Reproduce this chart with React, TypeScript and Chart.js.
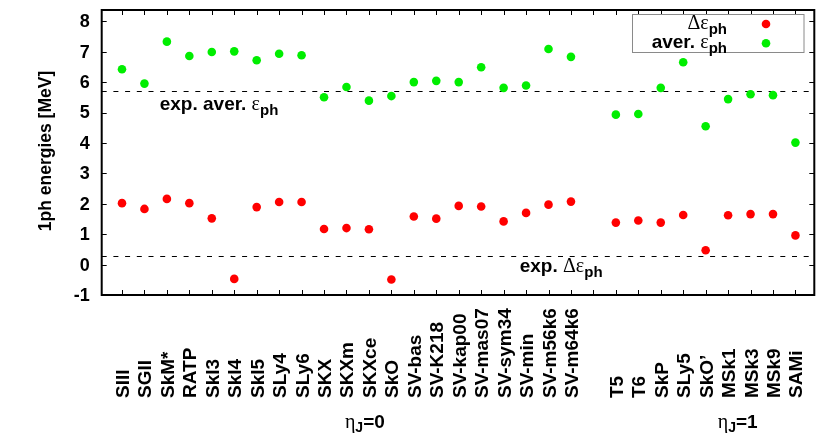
import { useEffect, useRef } from "react";
import { Chart, registerables } from "chart.js";

Chart.register(...registerables);

// ---- data ----
const models = [
  "SIII", "SGII", "SkM*", "RATP", "SkI3", "SkI4", "SkI5", "SLy4", "SLy6", "SKX",
  "SKXm", "SKXce", "SkO", "SV-bas", "SV-K218", "SV-kap00", "SV-mas07", "SV-sym34",
  "SV-min", "SV-m56k6", "SV-m64k6", "", "T5", "T6", "SkP", "SLy5", "SkO\u2019",
  "MSk1", "MSk3", "MSk9", "SAMi",
];
const deltaEph: (number | null)[] = [
  2.02, 1.83, 2.16, 2.02, 1.52, -0.47, 1.89, 2.06, 2.06, 1.17,
  1.20, 1.16, -0.49, 1.58, 1.51, 1.93, 1.91, 1.42,
  1.70, 1.97, 2.07, null, 1.38, 1.45, 1.38, 1.63, 0.47,
  1.62, 1.66, 1.66, 0.96,
];
const averEph: (number | null)[] = [
  6.42, 5.95, 7.33, 6.86, 6.99, 7.01, 6.72, 6.93, 6.88, 5.50,
  5.84, 5.39, 5.54, 6.00, 6.04, 6.00, 6.49, 5.81,
  5.89, 7.09, 6.83, null, 4.93, 4.95, 5.81, 6.65, 4.55,
  5.44, 5.60, 5.57, 4.01,
];
const yTicks = [-1, 0, 1, 2, 3, 4, 5, 6, 7, 8];
const expAver = 5.7;
const expDelta = 0.28;
const groupLabels = ["0", "1"];
const groupStarts = [10.93, 27.54]; // in category-index units

const SANS = '"Liberation Sans", Arial, Helvetica, sans-serif';
const SERIF = '"Liberation Serif", "Times New Roman", serif';
const MAIN = `bold 19px ${SANS}`;
const SUB = `bold 15px ${SANS}`;
const GREEK = `20px ${SERIF}`;

type Part = { t: string; font: string; dy?: number };

function measure(ctx: CanvasRenderingContext2D, parts: Part[]) {
  let w = 0;
  for (const p of parts) {
    ctx.font = p.font;
    w += ctx.measureText(p.t).width;
  }
  return w;
}

function drawRich(ctx: CanvasRenderingContext2D, parts: Part[], x: number, baseline: number, align: "left" | "right") {
  let cx = align === "left" ? x : x - measure(ctx, parts);
  ctx.textAlign = "left";
  ctx.textBaseline = "alphabetic";
  for (const p of parts) {
    ctx.font = p.font;
    ctx.fillText(p.t, cx, baseline + (p.dy || 0));
    cx += ctx.measureText(p.t).width;
  }
}

const gnuplotFrame = {
  id: "gnuplotFrame",
  beforeDatasetsDraw(chart: any) {
    const { ctx, chartArea: a, scales } = chart;
    const y = scales.y;
    ctx.save();
    ctx.strokeStyle = "#000";
    ctx.lineWidth = 1;
    ctx.setLineDash([5, 6.7]);
    for (const v of [expAver, expDelta]) {
      const py = Math.round(y.getPixelForValue(v)) + 0.5;
      ctx.beginPath();
      ctx.moveTo(a.left, py);
      ctx.lineTo(a.right, py);
      ctx.stroke();
    }
    ctx.restore();
  },
  afterDraw(chart: any) {
    const { ctx, chartArea: a, scales } = chart;
    const x = scales.x;
    const y = scales.y;
    ctx.save();
    ctx.fillStyle = "#000";
    ctx.strokeStyle = "#000";

    // ticks
    ctx.lineWidth = 1;
    ctx.beginPath();
    for (let i = 1; i <= models.length; i++) {
      const px = Math.round(x.getPixelForValue(i)) + 0.5;
      ctx.moveTo(px, a.bottom);
      ctx.lineTo(px, a.bottom - 5);
      ctx.moveTo(px, a.top);
      ctx.lineTo(px, a.top + 5);
    }
    for (const v of yTicks) {
      const py = Math.round(y.getPixelForValue(v)) + 0.5;
      ctx.moveTo(a.left, py);
      ctx.lineTo(a.left + 5, py);
      ctx.moveTo(a.right, py);
      ctx.lineTo(a.right - 5, py);
    }
    ctx.stroke();

    // frame
    ctx.lineWidth = 2;
    ctx.strokeRect(a.left, a.top, a.right - a.left, a.bottom - a.top);

    // y tick labels
    ctx.font = `bold 18px ${SANS}`;
    ctx.textAlign = "right";
    ctx.textBaseline = "middle";
    for (const v of yTicks) {
      ctx.fillText(String(v), a.left - 12, y.getPixelForValue(v) + 1);
    }

    // x labels (rotated, start-aligned at the bottom)
    ctx.font = MAIN;
    ctx.textAlign = "left";
    ctx.textBaseline = "alphabetic";
    models.forEach((m, i) => {
      if (!m) return;
      const px = x.getPixelForValue(i + 1);
      ctx.save();
      ctx.translate(px + 7, a.bottom + 103);
      ctx.rotate(-Math.PI / 2);
      ctx.fillText(m, 0, 0);
      ctx.restore();
    });

    // y title
    ctx.save();
    ctx.translate(51, 151);
    ctx.rotate(-Math.PI / 2);
    ctx.font = `bold 17.5px ${SANS}`;
    ctx.textAlign = "center";
    ctx.fillText("1ph energies [MeV]", 0, 0);
    ctx.restore();

    // group labels
    groupLabels.forEach((g, k) => {
      drawRich(ctx, [
        { t: "\u03b7", font: GREEK },
        { t: "J", font: `bold 14px ${SANS}`, dy: 4 },
        { t: "=" + g, font: MAIN },
      ], x.getPixelForValue(groupStarts[k]), a.bottom + 133, "left");
    });

    // annotations
    drawRich(ctx, [
      { t: "exp. aver. ", font: MAIN },
      { t: "\u03b5", font: GREEK },
      { t: "ph", font: SUB, dy: 5 },
    ], a.left + 58, y.getPixelForValue(expAver) + 18.5, "left");
    drawRich(ctx, [
      { t: "exp. ", font: MAIN },
      { t: "\u0394\u03b5", font: GREEK },
      { t: "ph", font: SUB, dy: 5 },
    ], a.left + 418, y.getPixelForValue(expDelta) + 16, "left");

    // legend
    const ds = chart.data.datasets;
    ctx.lineWidth = 1;
    ctx.strokeStyle = "#8a8a8a";
    ctx.strokeRect(632.5, 14.5, 171.5, 38);
    ctx.fillStyle = "#000";
    drawRich(ctx, [
      { t: "\u0394\u03b5", font: GREEK },
      { t: "ph", font: SUB, dy: 5 },
    ], 727, 28.5, "right");
    drawRich(ctx, [
      { t: "aver. ", font: MAIN },
      { t: "\u03b5", font: GREEK },
      { t: "ph", font: SUB, dy: 5 },
    ], 727, 47.5, "right");
    [24, 43.3].forEach((ly, k) => {
      ctx.fillStyle = ds[k].backgroundColor;
      ctx.beginPath();
      ctx.arc(766, ly, 4.3, 0, Math.PI * 2);
      ctx.fill();
    });
    ctx.restore();
  },
};

export default function App() {
  const ref = useRef<HTMLCanvasElement>(null);
  useEffect(() => {
    const toPts = (arr: (number | null)[]) =>
      arr.map((v, i) => (v === null ? null : { x: i + 1, y: v })).filter(Boolean) as { x: number; y: number }[];
    const chart = new Chart(ref.current!, {
      type: "scatter",
      data: {
        datasets: [
          { label: "delta", data: toPts(deltaEph), backgroundColor: "#ff0000", borderWidth: 0, pointRadius: 4.3 },
          { label: "aver", data: toPts(averEph), backgroundColor: "#00ee00", borderWidth: 0, pointRadius: 4.3 },
        ],
      },
      options: {
        responsive: false,
        animation: false,
        events: [],
        layout: { padding: { left: 101.7, top: 10, right: 830 - 814.3, bottom: 438 - 295 } },
        scales: {
          x: { type: "linear", min: 0.096, max: 31.84, display: false },
          y: { type: "linear", min: -1, max: 8.37, display: false },
        },
        plugins: { legend: { display: false }, tooltip: { enabled: false } },
      },
      plugins: [gnuplotFrame],
    });
    return () => chart.destroy();
  }, []);
  return (
    <div style={{ position: "absolute", left: 0, top: 0, width: 830, height: 438, background: "#fff" }}>
      <canvas ref={ref} width={830} height={438} style={{ width: 830, height: 438, display: "block" }} />
    </div>
  );
}
